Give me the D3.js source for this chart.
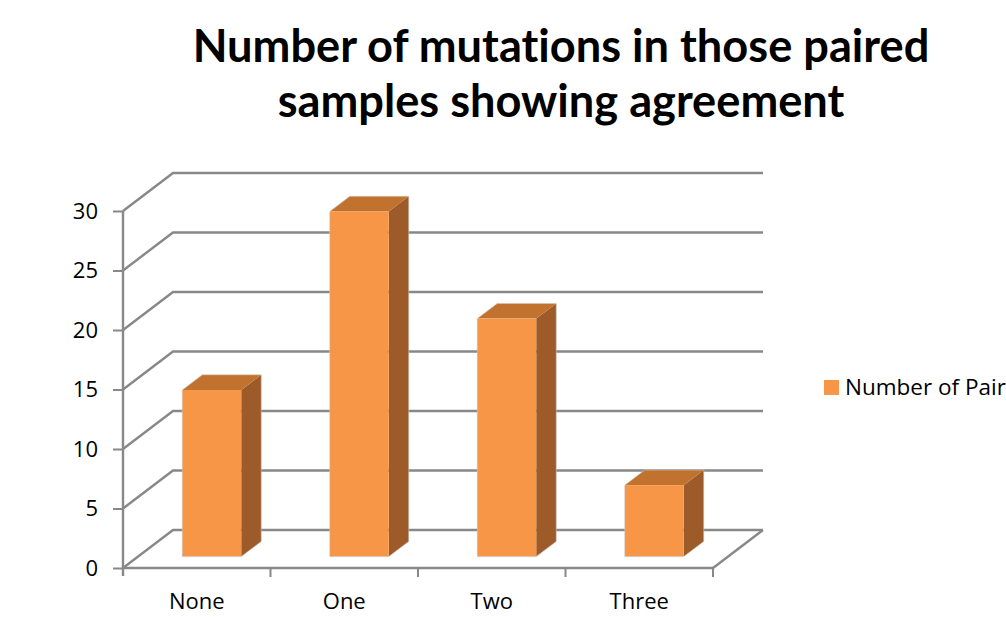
<!DOCTYPE html>
<html>
<head>
<meta charset="utf-8">
<script src="https://cdn.jsdelivr.net/npm/d3@7"></script>
<style>
  html, body { margin: 0; padding: 0; background: #fff; }
  svg { display: block; overflow: hidden; }
  text { font-variant-ligatures: none; }
</style>
</head>
<body>
<svg id="chart" width="1006" height="617"></svg>
<script>
// Chart data
const titleLines = ["Number of mutations in those paired", "samples showing agreement"];
const categories = ["None", "One", "Two", "Three"];
const values = [14, 29, 20, 6];
const yTicks = [0, 5, 10, 15, 20, 25, 30];
const seriesName = "Number of Pairs";

const svg = d3.select("#chart");

// Plot frame (front plane) and the depth vector of the 3D box
const plotLeft = 123, plotRight = 713, plotBottom = 568, plotTop = 211;
const depth = { dx: 50, dy: -38 };
const barFront = 0.3, barBack = 0.7;   // bar position within the depth

const x = d3.scaleBand().domain(categories).range([plotLeft, plotRight]).padding(0);
const y = d3.scaleLinear().domain([0, 30]).range([plotBottom, plotTop]);
const barW = x.bandwidth() / 2.5;

const gridColor = "#888888";
const colFront = "#F79646", colTop = "#C2722F", colSide = "#9C5B28";

// Title
const titleG = svg.append("g");
const titleBase = [62, 117];
titleLines.forEach((t, i) => {
  titleG.append("text")
    .attr("x", 561).attr("y", titleBase[i])
    .attr("text-anchor", "middle")
    .style("font-family", "Lato, 'Open Sans', sans-serif")
    .style("font-weight", 700)
    .style("font-size", "40px")
    .attr("fill", "#000")
    .text(t);
});
// scale the title so its first line spans the intended width
const firstLine = titleG.select("text").node();
const lineLen = firstLine.getComputedTextLength();
const titleSize = 40 * 737 / lineLen;
titleG.selectAll("text").style("font-size", titleSize + "px");

// Back wall gridlines (diagonal on the side wall, horizontal on the back wall)
const gridG = svg.append("g");
yTicks.forEach(v => {
  const p = d3.path();
  p.moveTo(plotLeft, y(v));
  p.lineTo(plotLeft + depth.dx, y(v) + depth.dy);
  p.lineTo(plotRight + depth.dx, y(v) + depth.dy);
  gridG.append("path").attr("d", p.toString())
    .attr("fill", "none").attr("stroke", gridColor).attr("stroke-width", 2.4);
});
// Right edge of the floor
gridG.append("line")
  .attr("x1", plotRight).attr("y1", y(0))
  .attr("x2", plotRight + depth.dx).attr("y2", y(0) + depth.dy)
  .attr("stroke", gridColor).attr("stroke-width", 2.4);

// 3D bars
const barsG = svg.append("g");
categories.forEach((c, i) => {
  const v = values[i];
  const f = { dx: depth.dx * barFront, dy: depth.dy * barFront };
  const b = { dx: depth.dx * barBack, dy: depth.dy * barBack };
  const cx = x(c) + x.bandwidth() / 2;
  const x0 = cx - barW / 2 + f.dx, x1 = cx + barW / 2 + f.dx;
  const yT = y(v) + f.dy, yB = y(0) + f.dy;
  const sx = b.dx - f.dx, sy = b.dy - f.dy;
  const g = barsG.append("g");
  // side face
  g.append("polygon")
    .attr("points", [[x1, yT], [x1 + sx, yT + sy], [x1 + sx, yB + sy], [x1, yB]].join(" "))
    .attr("fill", colSide);
  // top face
  g.append("polygon")
    .attr("points", [[x0, yT], [x0 + sx, yT + sy], [x1 + sx, yT + sy], [x1, yT]].join(" "))
    .attr("fill", colTop);
  // front face
  g.append("rect")
    .attr("x", x0).attr("y", yT).attr("width", barW).attr("height", yB - yT)
    .attr("fill", colFront);
  // thin light outline
  g.append("path")
    .attr("d", `M${x0},${yB}V${yT}L${x0 + sx},${yT + sy}H${x1 + sx}V${yB + sy}L${x1},${yB}Z`)
    .attr("fill", "none").attr("stroke", "#c9c9c9").attr("stroke-width", 0.8).attr("stroke-opacity", 0.7);
});

// Y axis
const yAxis = svg.append("g")
  .attr("transform", `translate(${plotLeft},0)`)
  .call(d3.axisLeft(y).tickValues(yTicks).tickSize(10).tickPadding(15).tickSizeOuter(0));
yAxis.select(".domain").attr("stroke", gridColor).attr("stroke-width", 2.4)
  .attr("d", `M0,${y(0) + 8}V${y(30)}`);
yAxis.selectAll(".tick line").attr("stroke", gridColor).attr("stroke-width", 2);
yAxis.selectAll(".tick text")
  .style("font-family", "'Open Sans', sans-serif").style("font-size", "22px").attr("fill", "#000");

// X axis (front floor edge) with labels centred in each category
const xAxis = svg.append("g")
  .attr("transform", `translate(0,${plotBottom})`)
  .call(d3.axisBottom(x).tickSize(0).tickPadding(25).tickSizeOuter(0));
xAxis.select(".domain").attr("stroke", gridColor).attr("stroke-width", 2.4)
  .attr("d", `M${plotLeft},0H${plotRight}`);
xAxis.selectAll(".tick text")
  .style("font-family", "'Open Sans', sans-serif").style("font-size", "22px").attr("fill", "#000");
// category boundary ticks
const bounds = categories.map(c => x(c)).concat([x.range()[1]]).slice(1);
xAxis.selectAll("line.bound").data(bounds).enter().append("line")
  .attr("class", "bound")
  .attr("x1", d => d).attr("x2", d => d).attr("y1", 0).attr("y2", 9)
  .attr("stroke", gridColor).attr("stroke-width", 2);

// Legend
const lg = svg.append("g");
lg.append("rect").attr("x", 824).attr("y", 380).attr("width", 15).attr("height", 15).attr("fill", colFront);
lg.append("text").attr("x", 845).attr("y", 395)
  .style("font-family", "'Open Sans', sans-serif").style("font-size", "22.5px").attr("fill", "#000")
  .text(seriesName);
</script>
</body>
</html>
